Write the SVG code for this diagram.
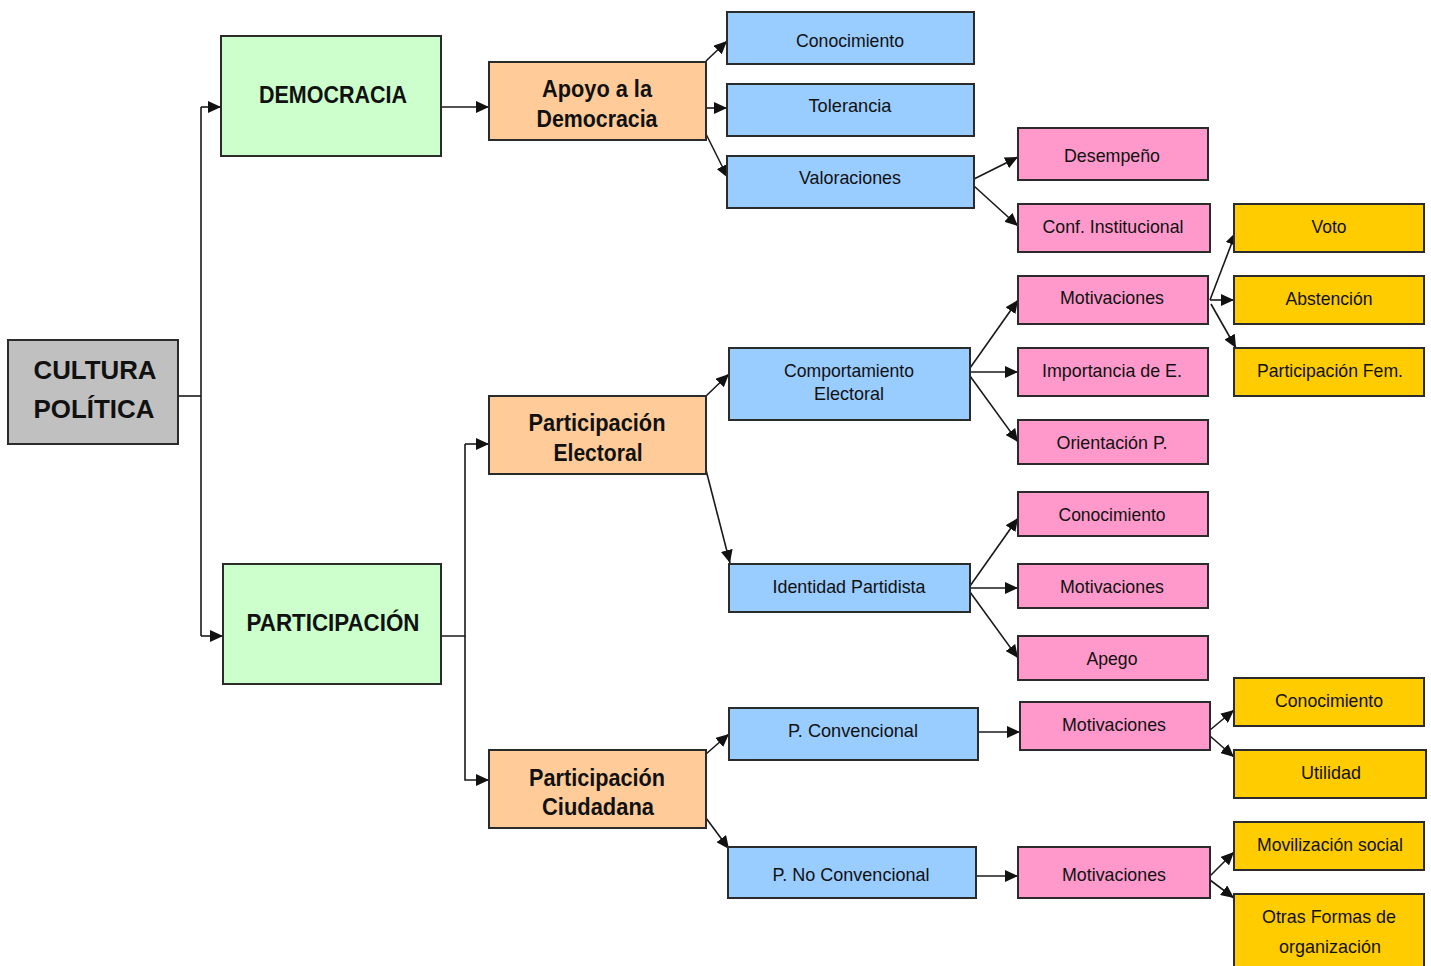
<svg xmlns="http://www.w3.org/2000/svg" width="1431" height="966" viewBox="0 0 1431 966">
<style>
rect{stroke:#2b2b2b;stroke-width:2}
.g{fill:#c0c0c0}.gr{fill:#ccffcc}.o{fill:#ffcc99}.b{fill:#99ccff}.p{fill:#ff99cc}.y{fill:#ffcc00}
text{font-family:"Liberation Sans",Arial,sans-serif;fill:#111;text-anchor:middle}
.t{font-size:19px}
.h{font-size:23px;font-weight:bold}
.c{fill:none;stroke:#1a1a1a;stroke-width:1.6}
</style>
<defs>
<marker id="a" markerUnits="userSpaceOnUse" markerWidth="13" markerHeight="12" refX="13" refY="6" orient="auto">
<path d="M0,0 L13,6 L0,12 Z" fill="#111"/>
</marker>
</defs>
<g id="connectors">
<path class="c" d="M178,396 H201"/>
<path class="c" d="M201,107 V636"/>
<path class="c" d="M201,107 H221" marker-end="url(#a)"/>
<path class="c" d="M201,636 H223" marker-end="url(#a)"/>
<path class="c" d="M441,107 H489" marker-end="url(#a)"/>
<path class="c" d="M441,636 H465 V444"/>
<path class="c" d="M465,444 H489" marker-end="url(#a)"/>
<path class="c" d="M465,636 V780 H489" marker-end="url(#a)"/>
<path class="c" d="M706,61 L727,41" marker-end="url(#a)"/>
<path class="c" d="M706,108 H727" marker-end="url(#a)"/>
<path class="c" d="M706,134 L728,178" marker-end="url(#a)"/>
<path class="c" d="M974,179 L1018,157" marker-end="url(#a)"/>
<path class="c" d="M974,186 L1018,226" marker-end="url(#a)"/>
<path class="c" d="M706,396 L729,374" marker-end="url(#a)"/>
<path class="c" d="M706,470 L730,563" marker-end="url(#a)"/>
<path class="c" d="M970,368 L1018,300" marker-end="url(#a)"/>
<path class="c" d="M970,372 H1018" marker-end="url(#a)"/>
<path class="c" d="M970,376 L1018,442" marker-end="url(#a)"/>
<path class="c" d="M1210,300 L1236,232" marker-end="url(#a)"/>
<path class="c" d="M1210,300 H1234" marker-end="url(#a)"/>
<path class="c" d="M1211,304 L1236,348" marker-end="url(#a)"/>
<path class="c" d="M970,586 L1018,518" marker-end="url(#a)"/>
<path class="c" d="M970,588 H1018" marker-end="url(#a)"/>
<path class="c" d="M970,592 L1018,658" marker-end="url(#a)"/>
<path class="c" d="M706,754 L729,734" marker-end="url(#a)"/>
<path class="c" d="M706,818 L729,849" marker-end="url(#a)"/>
<path class="c" d="M978,732 H1020" marker-end="url(#a)"/>
<path class="c" d="M976,876 H1018" marker-end="url(#a)"/>
<path class="c" d="M1210,730 L1234,710" marker-end="url(#a)"/>
<path class="c" d="M1210,736 L1234,757" marker-end="url(#a)"/>
<path class="c" d="M1210,876 L1234,852" marker-end="url(#a)"/>
<path class="c" d="M1210,880 L1234,898" marker-end="url(#a)"/>
</g>
<g id="cultura"><rect class="g" x="8" y="340" width="170" height="104"/><text class="h" style="font-size:26px" x="95" y="379" textLength="123" lengthAdjust="spacingAndGlyphs">CULTURA</text><text class="h" style="font-size:26px" x="94" y="418" textLength="121" lengthAdjust="spacingAndGlyphs">POLÍTICA</text></g>
<g id="democracia"><rect class="gr" x="221" y="36" width="220" height="120"/><text class="h" x="333" y="103" textLength="148" lengthAdjust="spacingAndGlyphs">DEMOCRACIA</text></g>
<g id="participacion"><rect class="gr" x="223" y="564" width="218" height="120"/><text class="h" x="333" y="631" textLength="173" lengthAdjust="spacingAndGlyphs">PARTICIPACIÓN</text></g>
<g id="apoyo"><rect class="o" x="489" y="62" width="217" height="78"/><text class="h" x="597" y="97" textLength="110" lengthAdjust="spacingAndGlyphs">Apoyo a la</text><text class="h" x="597" y="127" textLength="121" lengthAdjust="spacingAndGlyphs">Democracia</text></g>
<g id="pelectoral"><rect class="o" x="489" y="396" width="217" height="78"/><text class="h" x="597" y="431" textLength="137" lengthAdjust="spacingAndGlyphs">Participación</text><text class="h" x="598" y="461" textLength="89" lengthAdjust="spacingAndGlyphs">Electoral</text></g>
<g id="pciudadana"><rect class="o" x="489" y="750" width="217" height="78"/><text class="h" x="597" y="786" textLength="136" lengthAdjust="spacingAndGlyphs">Participación</text><text class="h" x="598" y="815" textLength="112" lengthAdjust="spacingAndGlyphs">Ciudadana</text></g>
<g id="conocimiento1"><rect class="b" x="727" y="12" width="247" height="52"/><text class="t" x="850" y="47" textLength="108" lengthAdjust="spacingAndGlyphs">Conocimiento</text></g>
<g id="tolerancia"><rect class="b" x="727" y="84" width="247" height="52"/><text class="t" x="850" y="112" textLength="83" lengthAdjust="spacingAndGlyphs">Tolerancia</text></g>
<g id="valoraciones"><rect class="b" x="727" y="156" width="247" height="52"/><text class="t" x="850" y="184" textLength="102" lengthAdjust="spacingAndGlyphs">Valoraciones</text></g>
<g id="comportamiento"><rect class="b" x="729" y="348" width="241" height="72"/><text class="t" x="849" y="377" textLength="130" lengthAdjust="spacingAndGlyphs">Comportamiento</text><text class="t" x="849" y="400" textLength="70" lengthAdjust="spacingAndGlyphs">Electoral</text></g>
<g id="identidad"><rect class="b" x="729" y="564" width="241" height="48"/><text class="t" x="849" y="593" textLength="153" lengthAdjust="spacingAndGlyphs">Identidad Partidista</text></g>
<g id="pconvencional"><rect class="b" x="729" y="708" width="249" height="52"/><text class="t" x="853" y="737" textLength="130" lengthAdjust="spacingAndGlyphs">P. Convencional</text></g>
<g id="pnoconvencional"><rect class="b" x="728" y="847" width="248" height="51"/><text class="t" x="851" y="881" textLength="157" lengthAdjust="spacingAndGlyphs">P. No Convencional</text></g>
<g id="desempeno"><rect class="p" x="1018" y="128" width="190" height="52"/><text class="t" x="1112" y="162" textLength="96" lengthAdjust="spacingAndGlyphs">Desempeño</text></g>
<g id="confianza"><rect class="p" x="1018" y="204" width="192" height="48"/><text class="t" x="1113" y="233" textLength="141" lengthAdjust="spacingAndGlyphs">Conf. Institucional</text></g>
<g id="motivaciones1"><rect class="p" x="1018" y="276" width="190" height="48"/><text class="t" x="1112" y="304" textLength="104" lengthAdjust="spacingAndGlyphs">Motivaciones</text></g>
<g id="importancia"><rect class="p" x="1018" y="348" width="190" height="48"/><text class="t" x="1112" y="377" textLength="140" lengthAdjust="spacingAndGlyphs">Importancia de E.</text></g>
<g id="orientacion"><rect class="p" x="1018" y="420" width="190" height="44"/><text class="t" x="1112" y="449" textLength="111" lengthAdjust="spacingAndGlyphs">Orientación P.</text></g>
<g id="conocimiento2"><rect class="p" x="1018" y="492" width="190" height="44"/><text class="t" x="1112" y="521" textLength="107" lengthAdjust="spacingAndGlyphs">Conocimiento</text></g>
<g id="motivaciones2"><rect class="p" x="1018" y="564" width="190" height="44"/><text class="t" x="1112" y="593" textLength="104" lengthAdjust="spacingAndGlyphs">Motivaciones</text></g>
<g id="apego"><rect class="p" x="1018" y="636" width="190" height="44"/><text class="t" x="1112" y="665" textLength="51" lengthAdjust="spacingAndGlyphs">Apego</text></g>
<g id="motivaciones3"><rect class="p" x="1020" y="702" width="190" height="48"/><text class="t" x="1114" y="731" textLength="104" lengthAdjust="spacingAndGlyphs">Motivaciones</text></g>
<g id="motivaciones4"><rect class="p" x="1018" y="847" width="192" height="51"/><text class="t" x="1114" y="881" textLength="104" lengthAdjust="spacingAndGlyphs">Motivaciones</text></g>
<g id="voto"><rect class="y" x="1234" y="204" width="190" height="48"/><text class="t" x="1329" y="233" textLength="35" lengthAdjust="spacingAndGlyphs">Voto</text></g>
<g id="abstencion"><rect class="y" x="1234" y="276" width="190" height="48"/><text class="t" x="1329" y="305" textLength="87" lengthAdjust="spacingAndGlyphs">Abstención</text></g>
<g id="partfem"><rect class="y" x="1234" y="348" width="190" height="48"/><text class="t" x="1330" y="377" textLength="146" lengthAdjust="spacingAndGlyphs">Participación Fem.</text></g>
<g id="conocimiento3"><rect class="y" x="1234" y="678" width="190" height="48"/><text class="t" x="1329" y="707" textLength="108" lengthAdjust="spacingAndGlyphs">Conocimiento</text></g>
<g id="utilidad"><rect class="y" x="1234" y="750" width="192" height="48"/><text class="t" x="1331" y="779" textLength="60" lengthAdjust="spacingAndGlyphs">Utilidad</text></g>
<g id="movilizacion"><rect class="y" x="1234" y="822" width="190" height="48"/><text class="t" x="1330" y="851" textLength="146" lengthAdjust="spacingAndGlyphs">Movilización social</text></g>
<g id="otras"><rect class="y" x="1234" y="894" width="190" height="80"/><text class="t" x="1329" y="923" textLength="134" lengthAdjust="spacingAndGlyphs">Otras Formas de</text><text class="t" x="1330" y="953" textLength="102" lengthAdjust="spacingAndGlyphs">organización</text></g>
</svg>
